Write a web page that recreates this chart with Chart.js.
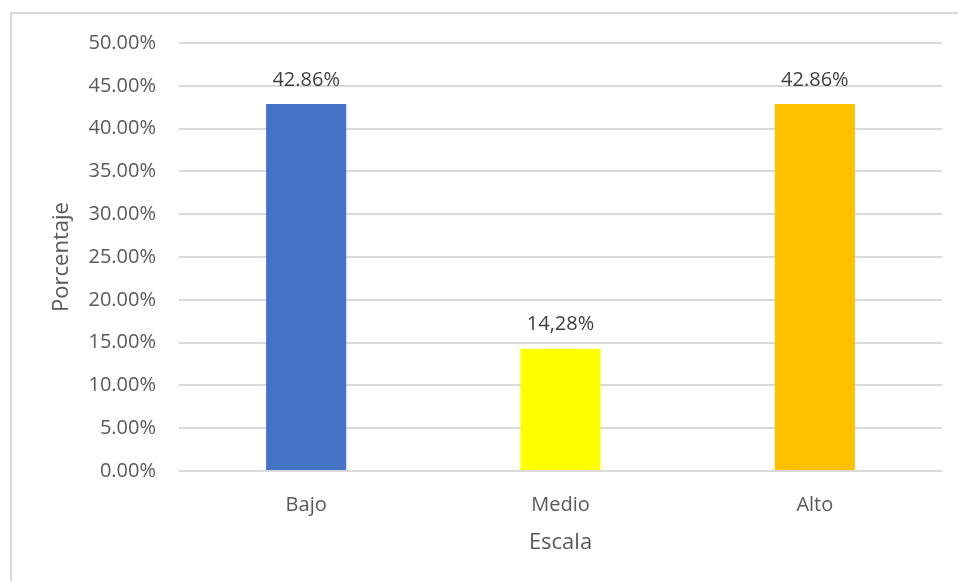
<!DOCTYPE html>
<html>
<head>
<meta charset="utf-8">
<script src="https://cdn.jsdelivr.net/npm/chart.js@4/dist/chart.umd.min.js"></script>
<style>
  html, body { margin: 0; padding: 0; background: #fff; }
  #wrap { width: 958px; height: 581px; position: relative; }
</style>
</head>
<body>
<div id="wrap"><canvas id="chartOne" width="958" height="581"></canvas></div>
<script>
// niveles de la escala
const categorias = ['Bajo', 'Medio', 'Alto'];
const porcentajes = [42.86, 14.28, 42.86];
const etiquetas = ['42.86%', '14,28%', '42.86%'];
const colores = ['#4472C4', '#FFFF00', '#FFC000'];

const textColor = '#595959';

// marco del grafico (solo borde superior e izquierdo)
const marco = {
    id: 'marco',
    beforeDraw(chart) {
        const ctx = chart.ctx;
        ctx.save();
        ctx.strokeStyle = '#D9D9D9';
        ctx.lineWidth = 2;
        ctx.beginPath();
        ctx.moveTo(958, 13);
        ctx.lineTo(11, 13);
        ctx.lineTo(11, 581);
        ctx.stroke();
        ctx.restore();
    }
};

// valor encima de cada barra
const valores = {
    id: 'valores',
    afterDatasetsDraw(chart) {
        const ctx = chart.ctx;
        const meta = chart.getDatasetMeta(0);
        ctx.save();
        ctx.font = '20px "Open Sans"';
        ctx.fillStyle = '#404040';
        ctx.textAlign = 'center';
        ctx.textBaseline = 'bottom';
        meta.data.forEach(function(bar, i){
            ctx.fillText(etiquetas[i], bar.x, bar.y - 14);
        });
        ctx.restore();
    }
};

const ctx = document.getElementById('chartOne').getContext('2d');

new Chart(ctx, {
    type: 'bar',
    data: {
        labels: categorias,
        datasets: [{
            data: porcentajes,
            backgroundColor: colores,
            borderWidth: 0,
            barPercentage: 0.63,
            categoryPercentage: 0.5
        }]
    },
    options: {
        responsive: false,
        animation: false,
        layout: {
            padding: { left: 0, top: 43, right: 16, bottom: 0 }
        },
        plugins: {
            legend: { display: false },
            tooltip: { enabled: false }
        },
        scales: {
            x: {
                grid: { display: false },
                border: { display: false },
                ticks: {
                    color: textColor,
                    padding: 14,
                    font: { family: 'Open Sans', size: 20 }
                },
                title: {
                    display: true,
                    text: 'Escala',
                    color: textColor,
                    padding: { top: 0, bottom: 25 },
                    font: { family: 'Open Sans', size: 22 }
                },
                afterFit: function(s){ s.height = 110; }
            },
            y: {
                min: 0,
                max: 50,
                grid: { color: '#D9D9D9', lineWidth: 2, drawTicks: false },
                border: { display: false },
                ticks: {
                    stepSize: 5,
                    color: textColor,
                    padding: 23,
                    font: { family: 'Open Sans', size: 20 },
                    callback: function(v){ return v.toFixed(2) + '%'; }
                },
                title: {
                    display: true,
                    text: 'Porcentaje',
                    color: textColor,
                    padding: { top: 49, bottom: 0 },
                    font: { family: 'Open Sans', size: 22 }
                },
                afterFit: function(s){ s.width = 179; }
            }
        }
    },
    plugins: [marco, valores]
});
</script>
</body>
</html>
